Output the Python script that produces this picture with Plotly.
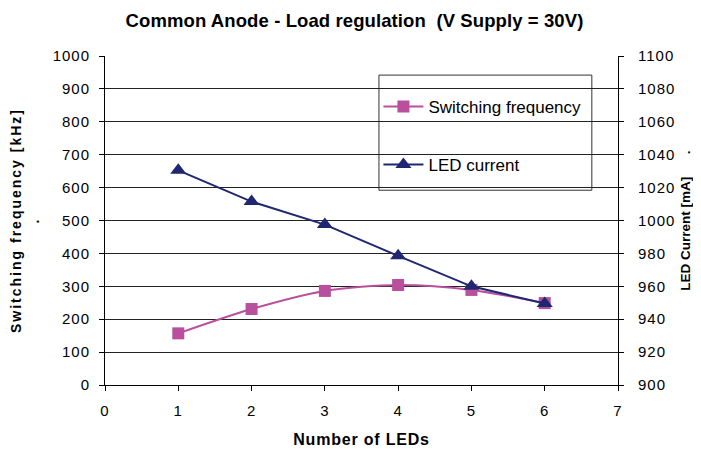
import plotly.graph_objects as go

leds = [1, 2, 3, 4, 5, 6]
switching_freq = [157, 231, 286, 304, 289, 249]
led_current = [1030.5, 1011.5, 997.5, 978.5, 960, 949.5]

x_ticks = [0, 1, 2, 3, 4, 5, 6, 7]
y1_ticks = list(range(0, 1001, 100))
y2_ticks = list(range(900, 1101, 20))

FONT = "Liberation Sans, Arial, sans-serif"
PINK = "#B9509D"
NAVY = "#1F2770"

fig = go.Figure()
fig.add_trace(go.Scatter(
    x=leds, y=switching_freq, name="Switching frequency", mode="lines+markers",
    line=dict(color=PINK, width=2, shape="spline", smoothing=0.8),
    marker=dict(symbol="square", size=12, color=PINK),
    legendgroup="a", yaxis="y"))
fig.add_trace(go.Scatter(
    x=leds, y=led_current, name="LED current", mode="lines+markers",
    line=dict(color=NAVY, width=2),
    marker=dict(symbol="triangle-up", size=14, color=NAVY),
    legendgroup="b", yaxis="y2"))

fig.update_layout(
    width=693, height=449,
    margin=dict(l=97, r=83, t=48, b=72),
    paper_bgcolor="white", plot_bgcolor="white",
    font=dict(family=FONT, size=15, color="black"),
    showlegend=True,
    title=dict(text="<b>Common Anode - Load regulation  (V Supply = 30V)</b>",
               x=0.5, xanchor="center", y=0.973, yanchor="middle",
               font=dict(size=18.5, family=FONT)),
    xaxis=dict(range=[0, 7], tickvals=x_ticks, showgrid=False, zeroline=False,
               showline=True, linecolor="black", linewidth=1, automargin=False,
               ticks="outside", ticklen=5, tickcolor="black", ticklabelstandoff=7,
               title=dict(text="<b>Number of LEDs</b>", font=dict(size=16), standoff=15)),
    yaxis=dict(range=[0, 1000], tickvals=y1_ticks, showgrid=True, gridcolor="#222",
               gridwidth=1, zeroline=False, showline=True, linecolor="black",
               automargin=False,
               ticks="outside", ticklen=5, tickcolor="black", ticklabelstandoff=6,
               title=dict(text="<b>Switching frequency [kHz]</b><br><b>.</b>",
                          font=dict(size=14), standoff=13)),
    yaxis2=dict(range=[900, 1100], tickvals=y2_ticks, overlaying="y", side="right",
                showgrid=False, zeroline=False, showline=True, linecolor="black",
                automargin=False,
                ticks="outside", ticklen=5, tickcolor="black", ticklabelstandoff=11,
                title=dict(text="<b>LED Current [mA]" + "\u00a0" * 6 + ".</b>",
                           font=dict(size=13.5), standoff=10)),
    legend=dict(x=0.533, y=0.90, xanchor="left", yanchor="top",
                bgcolor="rgba(0,0,0,0)", borderwidth=0,
                tracegroupgap=33, itemwidth=40,
                font=dict(size=17, family=FONT)),
)
# legend frame
fig.add_shape(type="rect", xref="paper", yref="paper",
              x0=0.534, x1=0.949, y0=0.592, y1=0.942,
              line=dict(color="#333", width=1), fillcolor="white", layer="between")

post = """
var gd = document.getElementById('{plot_id}');
function sp(){
  gd.querySelectorAll('.gtitle').forEach(function(e){e.style.letterSpacing='0.1px';});
  gd.querySelectorAll('.xtick text, .ytick text, .y2tick text').forEach(function(e){e.style.letterSpacing='1px';});
  gd.querySelectorAll('.xtitle').forEach(function(e){e.style.letterSpacing='0.8px';});
  gd.querySelectorAll('.ytitle').forEach(function(e){e.style.letterSpacing='2px';});
}
sp(); gd.on('plotly_afterplot', sp);
"""
fig.write_html("out.html", post_script=post)
